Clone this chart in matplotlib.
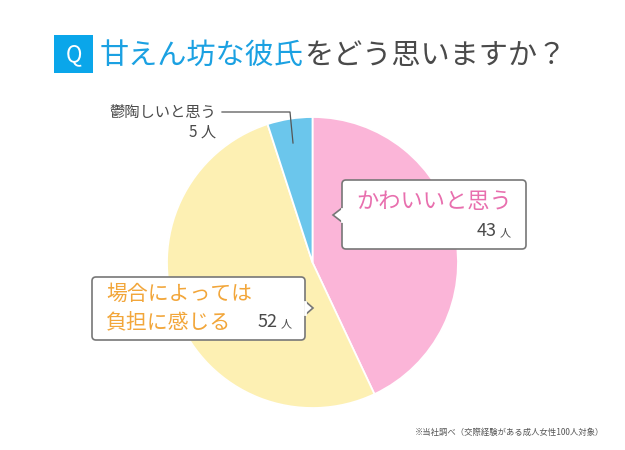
import matplotlib.pyplot as plt
from matplotlib.patches import FancyBboxPatch, Rectangle, Polygon

plt.rcParams['font.family'] = ['Noto Sans CJK JP', 'DejaVu Sans']

# data
labels = ['かわいいと思う', '場合によっては\n負担に感じる', '鬱陶しいと思う']
counts = [43, 52, 5]
colors = ['#FBB5D8', '#FDF0B3', '#6BC6EC']

title_blue = '甘えん坊な彼氏'
title_rest = 'をどう思いますか？'
note = '※当社調べ（交際経験がある成人女性100人対象）'

W, H = 625, 450
fig = plt.figure(figsize=(6.25, 4.5), dpi=100)
ax = fig.add_axes([0, 0, 1, 1])


def Y(y):
    return H - y


# pie
cx, cy, r = 312.5, 262.5, 145.5
ax.pie(counts, colors=colors, startangle=90, counterclock=False,
       center=(cx, Y(cy)), radius=r, frame=True,
       wedgeprops=dict(edgecolor='white', linewidth=1.3))
ax.set_xlim(0, W)
ax.set_ylim(0, H)
ax.set_aspect('equal')
ax.axis('off')

# title
ax.add_patch(Rectangle((54, Y(73)), 39, 38, facecolor='#0AA6EA', edgecolor='none'))
ax.text(73.5, Y(55), 'Q', color='white', fontsize=16, ha='center', va='center')
t1 = ax.text(100, Y(56), title_blue, color='#1BA1E2', fontsize=21, ha='left', va='center')
ax.annotate(title_rest, xy=(1, 0.5), xycoords=t1, color='#4A4A4A', fontsize=21,
            ha='left', va='center')

edge = '#777777'


def callout(x0, y0, x1, y1, tip, side):
    box = FancyBboxPatch((x0, Y(y1)), x1 - x0, y1 - y0,
                         boxstyle='round,pad=0,rounding_size=4',
                         facecolor='white', edgecolor=edge, linewidth=1.2, zorder=5)
    ax.add_patch(box)
    tx, ty = tip
    bx = x0 if side == 'left' else x1
    pts = [(bx, Y(ty - 7)), (tx, Y(ty)), (bx, Y(ty + 7))]
    ax.add_patch(Polygon(pts, closed=False, facecolor='white', edgecolor=edge,
                         linewidth=1.2, zorder=6))
    ax.plot([bx, bx], [Y(ty - 6.3), Y(ty + 6.3)], color='white', lw=2, zorder=7)


# pink callout
callout(342, 180, 526, 249, (333, 215), 'left')
ax.text(434, Y(202), labels[0], color='#E86FAE', fontsize=16, ha='center', va='center', zorder=8)
ax.text(497, Y(231), str(counts[0]), color='#4A4A4A', fontsize=13, ha='right', va='center', zorder=8)
ax.text(500, Y(233), '人', color='#4A4A4A', fontsize=8, ha='left', va='center', zorder=8)

# yellow callout
callout(92, 277, 305, 340, (313, 308), 'right')
ax.text(106, Y(308), labels[1], color='#F2A63A', fontsize=15, ha='left', va='center',
        linespacing=1.35, zorder=8)
ax.text(278, Y(322), str(counts[1]), color='#4A4A4A', fontsize=13, ha='right', va='center', zorder=8)
ax.text(281, Y(324), '人', color='#4A4A4A', fontsize=8, ha='left', va='center', zorder=8)

# blue label with leader line
ax.text(216, Y(112), labels[2], color='#4A4A4A', fontsize=11, ha='right', va='center')
ax.text(216, Y(132), f'{counts[2]} 人', color='#4A4A4A', fontsize=11, ha='right', va='center')
ax.plot([222, 290, 293], [Y(112), Y(112), Y(143)], color='#555555', lw=0.9)

# footnote
ax.text(604, Y(432), note, color='#555555', fontsize=6, ha='right', va='center')

fig.savefig('out.png', dpi=100, facecolor='white')
